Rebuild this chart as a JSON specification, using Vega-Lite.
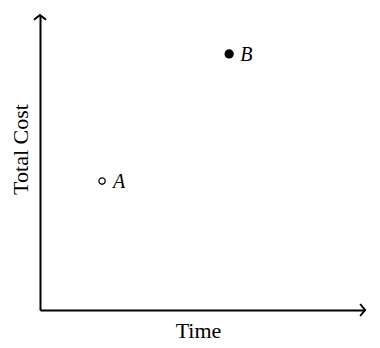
{
  "$schema": "https://vega.github.io/schema/vega-lite/v6.json",
  "width": 325,
  "height": 295,
  "autosize": {"type": "none"},
  "padding": {"left": 40, "top": 15, "right": 15, "bottom": 38},
  "background": "white",
  "config": {"view": {"stroke": null}},
  "datasets": {
    "pts": [
      {"label": "A", "time": 1.91, "cost": 4.37},
      {"label": "B", "time": 5.82, "cost": 8.68}
    ],
    "arrows": [
      {"dir": "right", "time": 10, "cost": 0},
      {"dir": "up", "time": 0, "cost": 10}
    ]
  },
  "layer": [
    {
      "data": {"name": "pts"},
      "mark": {"type": "point", "shape": "circle", "filled": true, "size": 50, "stroke": "black", "strokeWidth": 1.3, "opacity": 1},
      "encoding": {
        "x": {"field": "time", "type": "quantitative", "scale": {"domain": [0, 10], "nice": false, "zero": false},
          "axis": {"domain": true, "domainColor": "black", "domainWidth": 2, "ticks": false, "labels": false, "grid": false,
            "title": "Time", "titleFont": "Liberation Serif", "titleFontSize": 22, "titleFontWeight": "normal", "titleColor": "black",
            "titleX": 158, "titleY": 27, "titleAlign": "center", "titleBaseline": "alphabetic"}},
        "y": {"field": "cost", "type": "quantitative", "scale": {"domain": [0, 10], "nice": false, "zero": false},
          "axis": {"domain": true, "domainColor": "black", "domainWidth": 2, "ticks": false, "labels": false, "grid": false,
            "title": "Total Cost", "titleFont": "Liberation Serif", "titleFontSize": 22, "titleFontWeight": "normal", "titleColor": "black",
            "titleX": -20, "titleY": 134, "titleAngle": -90, "titleAlign": "center", "titleBaseline": "middle"}},
        "fill": {"field": "label", "type": "nominal", "scale": {"domain": ["A", "B"], "range": ["white", "black"]}, "legend": null},
        "size": {"field": "label", "type": "nominal", "scale": {"domain": ["A", "B"], "range": [40, 64]}, "legend": null}
      }
    },
    {
      "data": {"name": "pts"},
      "mark": {"type": "text", "align": "left", "baseline": "middle", "dx": 11, "dy": 1, "font": "Liberation Serif", "fontStyle": "italic", "fontSize": 20, "color": "black"},
      "encoding": {
        "x": {"field": "time", "type": "quantitative"},
        "y": {"field": "cost", "type": "quantitative"},
        "text": {"field": "label"}
      }
    },
    {
      "data": {"name": "arrows"},
      "mark": {"type": "point", "filled": false, "stroke": "black", "strokeWidth": 2, "size": 144, "clip": false, "opacity": 1},
      "encoding": {
        "x": {"field": "time", "type": "quantitative"},
        "y": {"field": "cost", "type": "quantitative"},
        "shape": {"field": "dir", "type": "nominal", "scale": {"domain": ["right", "up"], "range": ["M-0.8,-1L0,0L-0.8,1", "M-1,0.8L0,0L1,0.8"]}, "legend": null}
      }
    }
  ]
}
